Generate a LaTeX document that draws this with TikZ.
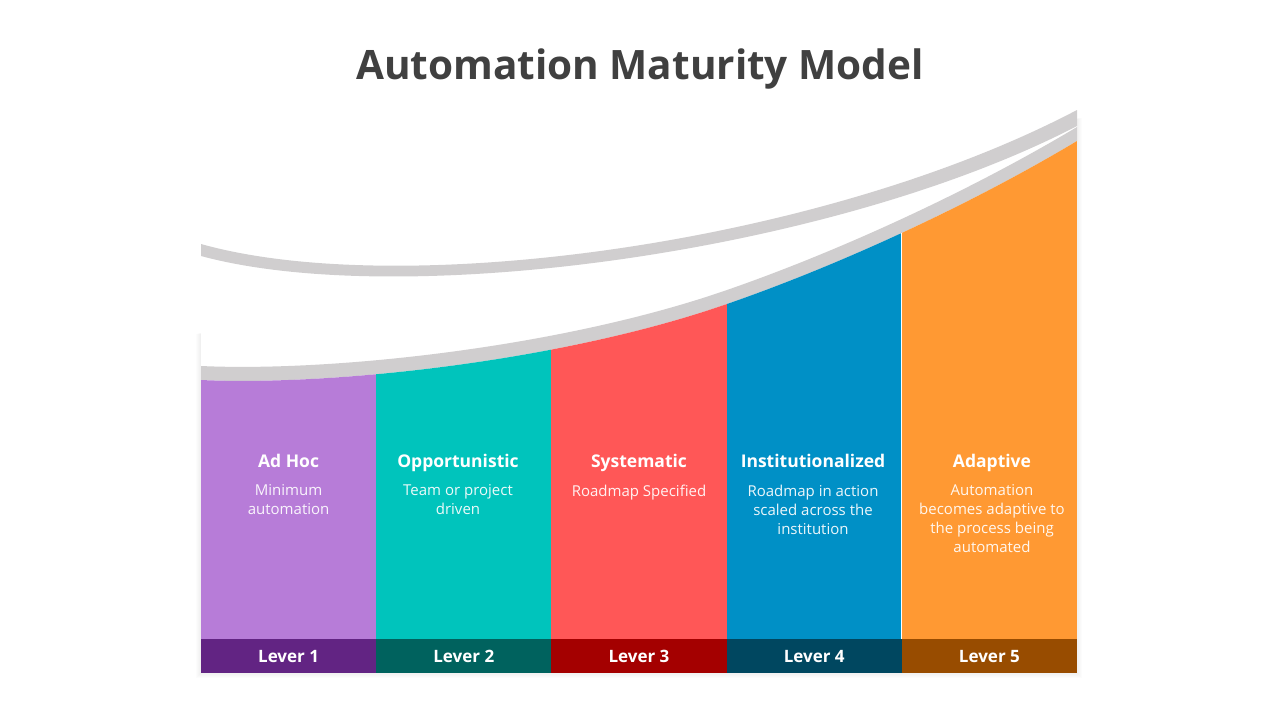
\documentclass[tikz,border=0pt]{standalone}
\usepackage{fontspec}
\setmainfont{Open Sans}

\definecolor{bandgray}{RGB}{208,206,207}
\definecolor{titlegray}{RGB}{64,64,64}
\definecolor{adhoc}{RGB}{183,124,216}
\definecolor{adhocdark}{RGB}{98,36,131}
\definecolor{opport}{RGB}{0,196,188}
\definecolor{opportdark}{RGB}{0,98,94}
\definecolor{system}{RGB}{255,87,87}
\definecolor{systemdark}{RGB}{164,0,0}
\definecolor{instit}{RGB}{0,144,198}
\definecolor{institdark}{RGB}{0,71,96}
\definecolor{adapt}{RGB}{255,153,51}
\definecolor{adaptdark}{RGB}{152,76,0}

\tikzset{
  levelbar/.style={minimum width=175.2pt, minimum height=34pt, inner sep=0pt, text height=12.5pt, text depth=0pt, text=white, font=\bfseries\fontsize{17}{17}\selectfont},
  head/.style={anchor=base, inner sep=0pt, text=white, font=\bfseries\fontsize{17.5}{17.5}\selectfont},
  note/.style={anchor=north, inner sep=0pt, align=center, text=white, text opacity=0.92, font=\fontsize{15}{19}\selectfont},
}

\begin{document}
\begin{tikzpicture}[x=1pt,y=1pt,yscale=-1]
    \useasboundingbox (0,0) rectangle (1280,720);
    % soft shadow under the panel
    \foreach \s in {1,...,5}
        \fill[black, opacity=0.012] (201-\s,334) -- (1077+\s,118) -- (1077+\s,673+\s) -- (201-\s,673+\s) -- cycle;
    \fill[white] (201,330) -- (1077,110) -- (1077,673) -- (201,673) -- cycle;

    \node[anchor=base, inner sep=0pt, text=titlegray, font=\bfseries\fontsize{40.5}{40.5}\selectfont] (title) at (640,79) {Automation Maturity Model};

    % upper band
    \fill[bandgray] (201,244) .. controls (400,300) and (820,245) .. (1077,110) -- (1077,126) .. controls (830,254) and (400,310) .. (201,256) -- cycle;
    % lower band
    \fill[bandgray] (201,366) .. controls (330,372) and (560,348) .. (727,290) .. controls (840,250.8) and (970,191) .. (1077,127) -- (1077,141) .. controls (970,205) and (840,264.8) .. (727,304) .. controls (560,362) and (330,386) .. (201,380) -- cycle;

    % columns
    \begin{scope}
        \clip (201,380) .. controls (330,386) and (560,362) .. (727,304) .. controls (840,264.8) and (970,205) .. (1077,141) -- (1077,673) -- (201,673) -- cycle;
        \foreach \i/\c in {0/adhoc,1/opport,2/system,3/instit,4/adapt}
            \fill[\c] (201+175.2*\i,100) rectangle (376.2+175.2*\i,639);
        \draw[white, line width=0.8] (901.8,639) -- (901.8,200);
    \end{scope}

    \node[levelbar, fill=adhocdark] (lev1) at (288.6,656) {Lever 1};
    \node[levelbar, fill=opportdark] (lev2) at (463.8,656) {Lever 2};
    \node[levelbar, fill=systemdark] (lev3) at (639,656) {Lever 3};
    \node[levelbar, fill=institdark] (lev4) at (814.2,656) {Lever 4};
    \node[levelbar, fill=adaptdark] (lev5) at (989.4,656) {Lever 5};

    \node[head] (head1) at (288.6,467) {Ad Hoc};
    \node[head] (head2) at (458,467) {Opportunistic};
    \node[head] (head3) at (639,467) {Systematic};
    \node[head] (head4) at (813,467) {Institutionalized};
    \node[head] (head5) at (992,467) {Adaptive};

    \node[note] (note1) at (288.6,484.5) {Minimum\\automation};
    \node[note] (note2) at (458,484.5) {Team or project\\driven};
    \node[note] (note3) at (639,484.5) {Roadmap Specified};
    \node[note] (note4) at (813,484.5) {Roadmap in action\\scaled across the\\institution};
    \node[note] (note5) at (992,484.5) {Automation\\becomes adaptive to\\the process being\\automated};
\end{tikzpicture}
\end{document}
